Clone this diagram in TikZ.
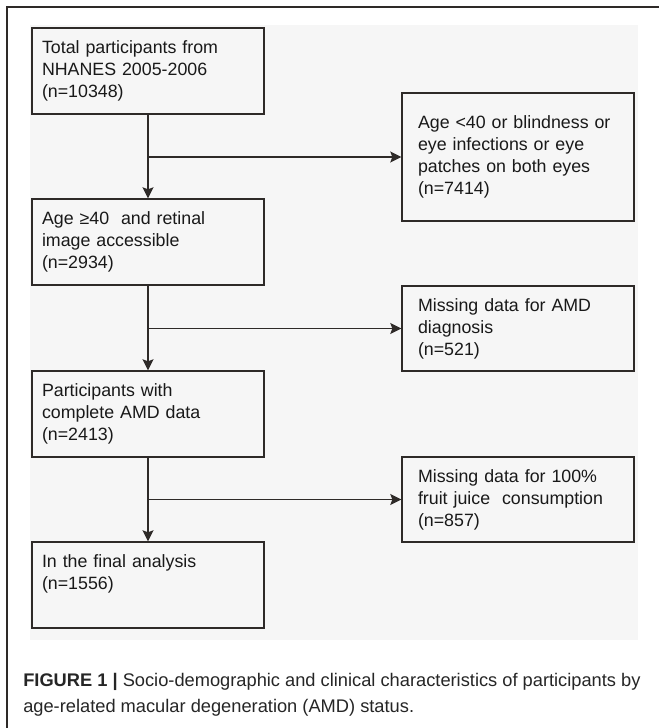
\documentclass[tikz,border=0pt]{standalone}
\usepackage{fontspec}
\setmainfont{Liberation Sans}
\usetikzlibrary{arrows.meta}
\newlength\upx
\setlength\upx{0.75pt}
\definecolor{ink}{HTML}{2E2A28}
\definecolor{bgtint}{HTML}{F6F6F6}
\begin{document}
\begin{tikzpicture}[x=0.75pt,y=-0.75pt,
  box/.style={draw=ink, line width=1.05pt, rectangle, align=left, inner ysep=0pt,
    font=\fontsize{13.35pt}{16.5pt}\selectfont, text=black!90},
  lbox/.style={box, text width=159pt, inner xsep=7.5pt, minimum height=64.5pt},
  rbox/.style={box, text width=150pt, inner xsep=12pt},
  flow/.style={draw=ink, line width=1pt, -{Stealth[length=8.25pt,width=8.25pt,inset=1.5pt]}},
  captext/.style={anchor=base west, inner sep=0pt, font=\fontsize{13.7pt}{16pt}\selectfont, text=black!85}]
\useasboundingbox (0,0) rectangle (659,728);
\fill[white] (0,0) rectangle (659,728);
\fill[bgtint] (30,25) rectangle (638,640);
\draw[ink, line width=0.9pt] (7,728) -- (7,7) -- (659,7);

\node[lbox] (b1) at (148,71) {Total participants from\\NHANES 2005-2006\\(n=10348)};
\node[rbox, minimum height=96pt] (b2) at (518,157) {Age <40 or blindness or\\eye infections or eye\\patches on both eyes\\(n=7414)};
\node[lbox] (b3) at (148,242) {Age ≥40\ \ and retinal\\image accessible\\(n=2934)};
\node[rbox, minimum height=63.75pt] (b4) at (518,328.5) {Missing data for AMD\\diagnosis\\(n=521)};
\node[lbox] (b5) at (148,414) {Participants with\\complete AMD data\\(n=2413)};
\node[rbox, minimum height=63.75pt] (b6) at (518,499.5) {Missing data for 100\%\\fruit juice\ \ consumption\\(n=857)};
\node[lbox] (b7) at (148,585) {In the final analysis\\(n=1556)\\\vphantom{(}};

\draw[flow] (b1.south) -- (b3.north);
\draw[flow] (b1.south |- b2.west) -- (b2.west);
\draw[flow] (b3.south) -- (b5.north);
\draw[flow] (b3.south |- b4.west) -- (b4.west);
\draw[flow] (b5.south) -- (b7.north);
\draw[flow] (b5.south |- b6.west) -- (b6.west);

\node[captext] (cap1) at (23,686) {\textbf{FIGURE 1 |} Socio-demographic and clinical characteristics of participants by};
\node[captext] (cap2) at (23,712) {age-related macular degeneration (AMD) status.};
\end{tikzpicture}
\end{document}
